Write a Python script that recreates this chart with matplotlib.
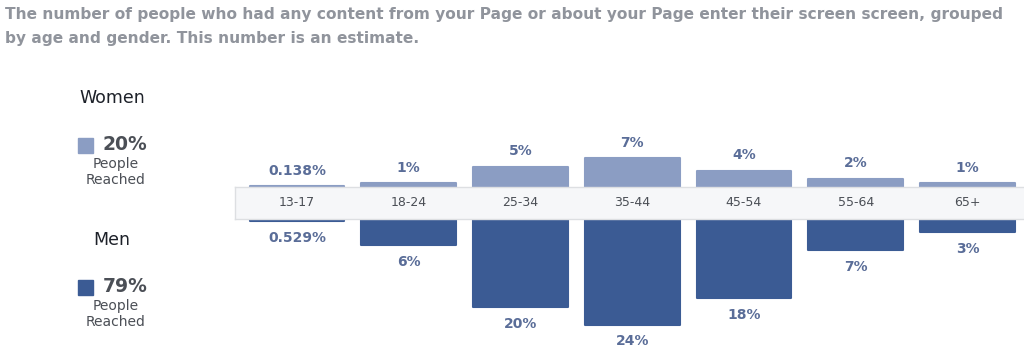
import numpy as np
import matplotlib
matplotlib.use("Agg")
import matplotlib.pyplot as plt

# age groups and share of people reached (%)
ages = ["13-17", "18-24", "25-34", "35-44", "45-54", "55-64", "65+"]
women = [0.138, 1, 5, 7, 4, 2, 1]
men = [0.529, 6, 20, 24, 18, 7, 3]
women_labels = ["0.138%", "1%", "5%", "7%", "4%", "2%", "1%"]
men_labels = ["0.529%", "6%", "20%", "24%", "18%", "7%", "3%"]
women_total = "20%"
men_total = "79%"

W, H = 1024, 353
fig = plt.figure(figsize=(W / 100, H / 100), dpi=100)
fig.patch.set_facecolor("white")

c_women = "#8b9dc3"
c_men = "#3b5b94"
c_lab = "#5a6d98"
c_text = "#4b4f56"

px_per_pct = 4.4
x_left, x_right = 235, 1024
c0, step = 297, 111.75
xlim = ((x_left - c0) / step, (x_right - c0) / step)
x = np.arange(len(ages))


def fig_rect(top_px, bot_px):
    return [x_left / W, 1 - bot_px / H, (x_right - x_left) / W, (bot_px - top_px) / H]


# women (above the band)
ax_w = fig.add_axes(fig_rect(128, 187))
ax_w.bar(x, women, width=0.85, color=c_women, edgecolor=c_women,
         linewidth=1.5, joinstyle="round")
ax_w.set_xlim(*xlim)
ax_w.set_ylim(0, (187 - 128) / 4.1)
for xi, v, lab in zip(x, women, women_labels):
    ax_w.annotate(lab, (xi, v), xytext=(0, 6), textcoords="offset points",
                  ha="center", va="bottom", fontsize=10, fontweight="bold", color=c_lab)
ax_w.axis("off")

# men (below the band)
ax_m = fig.add_axes(fig_rect(219, 353))
ax_m.bar(x, men, width=0.85, color=c_men, edgecolor=c_men,
         linewidth=1.5, joinstyle="round")
ax_m.set_xlim(*xlim)
ax_m.set_ylim((353 - 219) / px_per_pct, 0)
for xi, v, lab in zip(x, men, men_labels):
    ax_m.annotate(lab, (xi, v), xytext=(0, -7), textcoords="offset points",
                  ha="center", va="top", fontsize=10, fontweight="bold", color=c_lab)
ax_m.axis("off")

# age band
ax_b = fig.add_axes(fig_rect(187, 219))
ax_b.set_facecolor("#f6f7f9")
ax_b.set_xlim(*xlim)
ax_b.set_ylim(0, 1)
ax_b.set_xticks([])
ax_b.set_yticks([])
for s in ax_b.spines.values():
    s.set_color("#dddfe2")
    s.set_linewidth(1)
ax_b.spines["right"].set_visible(False)
for xi, a in zip(x, ages):
    ax_b.text(xi, 0.5, a, ha="center", va="center", fontsize=9, color=c_text)

# title
fig.text(5 / W, 1 - 14 / H, "The number of people who had any content from your Page or about your Page "
         "enter their screen screen, grouped", ha="left", va="center",
         fontsize=11.1, fontweight="bold", color="#90949c")
fig.text(5 / W, 1 - 38 / H, "by age and gender. This number is an estimate.", ha="left",
         va="center", fontsize=11.1, fontweight="bold", color="#90949c")


# left legend
def legend_block(y_head, name, total, color):
    fig.text(112 / W, 1 - y_head / H, name, ha="center", va="center",
             fontsize=12.5, color="#1d2129")
    fig.patches.append(plt.Rectangle((78 / W, 1 - (y_head + 55) / H), 15 / W, 15 / H,
                                     transform=fig.transFigure, color=color))
    fig.text(103 / W, 1 - (y_head + 46) / H, total, ha="left", va="center",
             fontsize=13.5, fontweight="bold", color=c_text)
    fig.text(116 / W, 1 - (y_head + 66) / H, "People", ha="center", va="center",
             fontsize=10, color=c_text)
    fig.text(116 / W, 1 - (y_head + 82) / H, "Reached", ha="center", va="center",
             fontsize=10, color=c_text)


legend_block(98, "Women", women_total, c_women)
legend_block(240, "Men", men_total, c_men)

fig.savefig("out.png", dpi=100)
